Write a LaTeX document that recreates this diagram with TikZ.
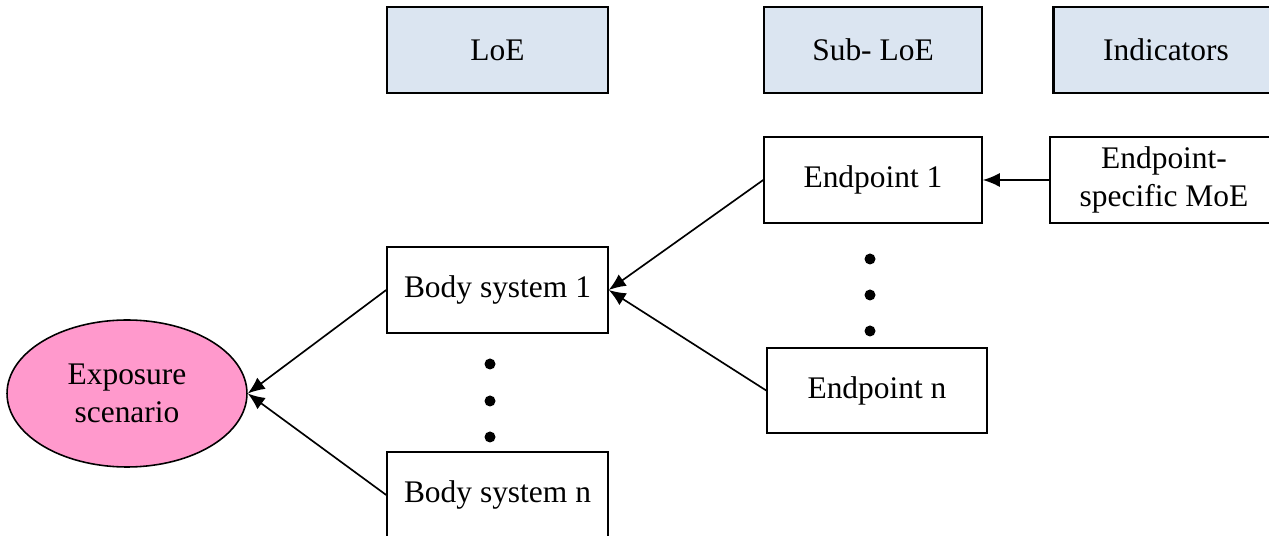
\documentclass[tikz,border=0pt]{standalone}
\usepackage{fontspec}
\setmainfont{Liberation Serif}
\usepackage{xcolor}
\usetikzlibrary{shapes.geometric,arrows.meta}
\definecolor{headblue}{HTML}{DBE5F1}
\definecolor{expopink}{HTML}{FF99CC}

\begin{document}
\begin{tikzpicture}[x=0.02cm, y=-0.02cm,
    font=\fontsize{17.9}{21.6}\selectfont,
    box/.style={draw, line width=0.9pt, minimum height=1.72cm, align=center, inner sep=2pt},
    headbox/.style={box, fill=headblue, line width=1.2pt},
    link/.style={-{Latex[length=3.4mm,width=2.8mm]}, line width=0.95pt}]
    \useasboundingbox (0,0) rectangle (1269,536);

    % Header row
    \node[headbox, minimum width=4.42cm] (loe) at (497.5,50) {LoE};
    \node[headbox, minimum width=4.36cm] (subloe) at (873,50) {Sub- LoE};
    \node[headbox, minimum width=4.5cm] (ind) at (1166,50) {Indicators};

    % Body systems
    \node[box, minimum width=4.42cm] (body1) at (497.5,290) {Body system 1};
    \node[box, minimum width=4.42cm] (bodyn) at (497.5,495) {Body system n};

    % Endpoints
    \node[box, minimum width=4.36cm] (ep1) at (873,180) {Endpoint 1};
    \node[box, minimum width=4.4cm, minimum height=1.7cm] (epn) at (877,390.5) {Endpoint n};

    % Indicator
    \node[box, minimum width=4.56cm] (moe) at (1164,180) {Endpoint-\\specific MoE};

    % Exposure scenario
    \node[ellipse, draw, line width=0.9pt, fill=expopink, minimum width=4.8cm, minimum height=2.94cm, align=center, inner sep=0pt] (expo) at (127,393.5) {Exposure\\scenario};

    % Dots
    \foreach \y in {364,401,437} \fill (490,\y) circle (0.11cm);
    \foreach \y in {259,295,331} \fill (870,\y) circle (0.11cm);

    % Arrows
    \draw[link] (moe.west) -- (ep1.east);
    \draw[link] (ep1.west) -- (body1.east);
    \draw[link] (epn.west) -- (body1.east);
    \draw[link] (body1.west) -- (expo.east);
    \draw[link] (bodyn.west) -- (expo.east);
\end{tikzpicture}
\end{document}
